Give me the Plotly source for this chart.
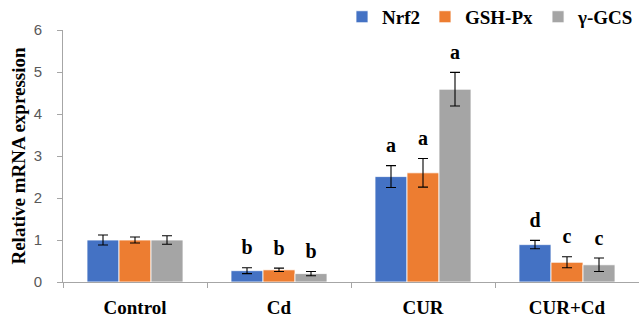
import plotly.graph_objects as go

categories = ["Control", "Cd", "CUR", "CUR+Cd"]
series = ["Nrf2", "GSH-Px", "γ-GCS"]
colors = ["#4472C4", "#ED7D31", "#A5A5A5"]
values = {
    "Nrf2":   [1.00, 0.27, 2.51, 0.89],
    "GSH-Px": [1.00, 0.29, 2.60, 0.47],
    "γ-GCS":  [1.00, 0.20, 4.59, 0.41],
}
errors = {
    "Nrf2":   [0.12, 0.07, 0.26, 0.10],
    "GSH-Px": [0.07, 0.04, 0.34, 0.13],
    "γ-GCS":  [0.10, 0.05, 0.40, 0.16],
}
letters = {
    "Nrf2":   ["", "b", "a", "d"],
    "GSH-Px": ["", "b", "a", "c"],
    "γ-GCS":  ["", "b", "a", "c"],
}
y_ticks = [0, 1, 2, 3, 4, 5, 6]
letter_pad = 0.2  # gap between error-bar cap and significance letter, in data units

serif = "Liberation Serif"
fig = go.Figure()
for s, c in zip(series, colors):
    fig.add_trace(go.Bar(
        name=s, x=categories, y=values[s], marker_color=c,
        marker_line=dict(color="white", width=0.8),
        offsetgroup=s,
        error_y=dict(type="data", array=errors[s], color="black", thickness=1.1, width=5),
    ))
for s in series:
    tops = [v + e + letter_pad for v, e in zip(values[s], errors[s])]
    fig.add_trace(go.Scatter(
        x=categories, y=tops, mode="text", text=letters[s], offsetgroup=s,
        textposition="top center", showlegend=False, hoverinfo="skip", cliponaxis=False,
        textfont=dict(family=serif, size=20, color="black", weight="bold"),
    ))

fig.update_layout(
    width=639, height=324,
    margin=dict(l=63, r=0, t=30, b=42, autoexpand=False),
    barmode="group", bargap=1/3, bargroupgap=0,
    scattermode="group", scattergap=1/3,
    plot_bgcolor="white", paper_bgcolor="white",
    legend=dict(orientation="h", x=1, xanchor="right", y=1.052, yanchor="middle",
                font=dict(family=serif, size=19, color="black", weight="bold"),
                itemwidth=30, tracegroupgap=0, bgcolor="rgba(0,0,0,0)"),
    xaxis=dict(showline=True, linecolor="#A6A6A6", linewidth=1, automargin=False,
               ticks="outside", tickson="boundaries", ticklen=5, tickcolor="#A6A6A6",
               tickfont=dict(family=serif, size=19, color="black", weight="bold"),
               ticklabelstandoff=8),
    yaxis=dict(range=[0, 6], tickvals=y_ticks, showline=True, linecolor="#A6A6A6",
               linewidth=1, ticks="outside", ticklen=5, tickcolor="#A6A6A6",
               showgrid=False, zeroline=False, automargin=False,
               tickfont=dict(family="Liberation Sans", size=15, color="#595959"),
               ticklabelstandoff=12,
               title=dict(text="Relative mRNA expression", standoff=3,
                          font=dict(family=serif, size=19, color="black", weight="bold"))),
)
fig.write_html("out.html", config={"displayModeBar": False},
               post_script="document.body.style.margin='0px';")
